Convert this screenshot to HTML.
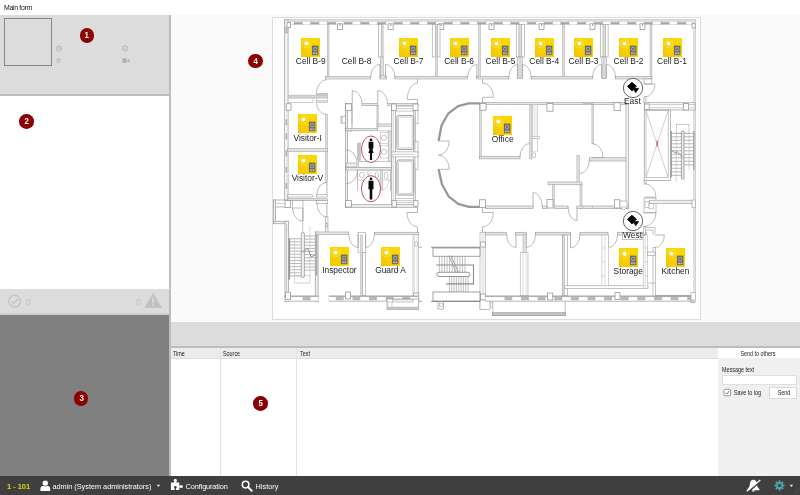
<!DOCTYPE html>
<html>
<head>
<meta charset="utf-8">
<title>Main form</title>
<style>
html,body{margin:0;padding:0;}
body{width:800px;height:495px;overflow:hidden;background:#fff;font-family:"Liberation Sans",sans-serif;position:relative;}
.abs{position:absolute;}
.t{position:absolute;white-space:nowrap;font-size:6.5px;line-height:8px;color:#222;transform-origin:0 0;}
.n{transform:scaleX(0.83);}
.nc{transform-origin:50% 0;transform:translateX(-50%) scaleX(0.83);}
.badge span{display:inline-block;transform:scaleX(0.84);}
.badge{position:absolute;width:14.6px;height:14.6px;border-radius:50%;background:#8b0000;color:#fff;font-weight:bold;font-size:9.4px;line-height:14.8px;text-align:center;}
.lbl{position:absolute;font-size:8.4px;line-height:9px;color:#1c1c1c;white-space:nowrap;transform:translateX(-50%);}
.dev{position:absolute;width:19px;height:19px;}
</style>
</head>
<body>
<div id="root" style="position:absolute;left:0;top:0;width:800px;height:495px;will-change:transform;overflow:hidden;">
<!-- title -->
<div class="t" style="left:4px;top:3.6px;font-size:6.9px;letter-spacing:-0.3px;color:#111;">Main form</div>

<!-- left column -->
<div class="abs" style="left:0;top:15px;width:169px;height:79px;background:#dcdcdc;"></div>
<div class="abs" style="left:0;top:94px;width:169px;height:1.5px;background:#bdbdbd;"></div>
<div class="abs" style="left:4px;top:18.3px;width:48px;height:48px;border:1px solid #868686;box-sizing:border-box;"></div>
<div class="abs" style="left:0;top:289.2px;width:169px;height:24px;background:#dcdcdc;"></div>
<div class="abs" style="left:0;top:313px;width:169px;height:1.8px;background:#cbcbcb;"></div>
<div class="abs" style="left:0;top:314.8px;width:169px;height:161px;background:#808080;"></div>
<div class="abs" style="left:169px;top:15px;width:1.6px;height:461px;background:#bdbdbd;"></div>

<!-- panel icons -->
<svg class="abs" style="left:55px;top:44px" width="80" height="22" viewBox="55 44 80 22">
<g fill="none" stroke="#a6a6a6" stroke-width="0.75">
<circle cx="59" cy="48.5" r="2.6"/><path d="M59 47 V48.6 H60.3"/>
<path d="M58.4 63 C57.6 61.6 56.9 60.8 56.9 59.8 A1.5 1.5 0 0 1 59.9 59.8 C59.9 60.8 59.2 61.6 58.4 63 Z"/>
<circle cx="125.1" cy="48.5" r="2.6"/>
</g>
<circle cx="125.1" cy="48.5" r="0.8" fill="#b2b2b2"/>
<circle cx="58.4" cy="59.8" r="0.5" fill="#b2b2b2"/>
<path d="M122.5 58.3 H126.6 V62.7 H122.5 Z M127 60.5 L129.3 58.6 V62.4 Z" fill="#adadad"/>
</svg>
<svg class="abs" style="left:6px;top:292px" width="20" height="18" viewBox="6 292 20 18"><circle cx="14.6" cy="301.1" r="5.9" fill="none" stroke="#c4c4c4" stroke-width="1.3"/><path d="M11.6 301.2 L13.8 303.4 L17.8 298.9" fill="none" stroke="#c4c4c4" stroke-width="1.5"/></svg>
<div class="t" style="left:26px;top:296.6px;font-size:8.8px;line-height:10px;color:#c2c2c2;">0</div>
<div class="t" style="left:136.3px;top:296.6px;font-size:8.8px;line-height:10px;color:#c2c2c2;">0</div>
<svg class="abs" style="left:144px;top:292px" width="19" height="17" viewBox="144 292 19 17"><path d="M153.1 293.4 L161.3 307.6 H144.9 Z" fill="#c0c0c0" stroke="#c0c0c0" stroke-width="0.6" stroke-linejoin="round"/><rect x="152.3" y="297.8" width="1.6" height="5.2" fill="#dcdcdc"/><rect x="152.3" y="304" width="1.6" height="1.7" fill="#dcdcdc"/></svg>
<!-- right main area -->
<div class="abs" style="left:170.6px;top:15px;width:630px;height:307px;background:#fafafa;"></div>
<div class="abs" style="left:272.2px;top:17.1px;width:428.4px;height:302.7px;background:#fff;border:0.9px solid #dddddd;box-sizing:border-box;"></div>
<div class="abs" style="left:170.6px;top:322px;width:630px;height:23.5px;background:#dcdcdc;"></div>
<div class="abs" style="left:170.6px;top:345.5px;width:630px;height:2px;background:#bdbdbd;"></div>
<!-- table -->
<div class="abs" style="left:170.6px;top:347.5px;width:547px;height:11px;background:#ececec;border-bottom:0.6px solid #dcdcdc;box-sizing:border-box;"></div>
<div class="abs" style="left:220px;top:347.5px;width:0.8px;height:128px;background:#e2e2e2;"></div>
<div class="abs" style="left:296.4px;top:347.5px;width:0.8px;height:128px;background:#e2e2e2;"></div>
<div class="t n" style="left:173px;top:349.6px;">Time</div>
<div class="t n" style="left:223px;top:349.6px;">Source</div>
<div class="t n" style="left:300px;top:349.6px;">Text</div>
<!-- right msg panel -->
<div class="abs" style="left:717.5px;top:347.5px;width:83px;height:128px;background:#f0f0f0;"></div>
<div class="abs" style="left:717.5px;top:347.5px;width:83px;height:10.7px;background:#fff;"></div>
<div class="t nc" style="left:758.2px;top:349.6px;">Send to others</div>
<div class="t n" style="left:722.3px;top:365.8px;">Message text</div>
<div class="abs" style="left:722px;top:375.4px;width:74.7px;height:9.5px;background:#fff;border:0.6px solid #e0e0e0;box-sizing:border-box;"></div>
<svg class="abs" style="left:722px;top:388px" width="10" height="10" viewBox="722 388 10 10"><rect x="724" y="389.4" width="6.6" height="6.4" rx="0.9" fill="#fff" stroke="#8e8e8e" stroke-width="0.85"/><path d="M725.4 392.6 L726.8 394.2 L729.5 390.6" fill="none" stroke="#777" stroke-width="0.95"/></svg>
<div class="t n" style="left:733.5px;top:389.3px;">Save to log</div>
<div class="abs" style="left:769.3px;top:387.2px;width:27.5px;height:11.5px;background:#fff;border:0.6px solid #dadada;box-sizing:border-box;"></div>
<div class="t nc" style="left:783.5px;top:389.3px;">Send</div>

<!-- status bar -->
<div class="abs" style="left:0;top:475.5px;width:800px;height:19.5px;background:#3f3f3f;"></div>
<div class="t" style="left:7px;top:481.5px;font-size:7.4px;line-height:9px;font-weight:bold;color:#e6d21e;">1 - 101</div>
<svg class="abs" style="left:40px;top:479.5px" width="11" height="12" viewBox="0 0 11 12"><circle cx="5.3" cy="3.1" r="2.7" fill="#fff"/><path d="M0.4 11 V8.6 C0.4 6.6 2.2 6 3.4 5.7 C4.6 6.5 6 6.5 7.2 5.7 C8.4 6 10.2 6.6 10.2 8.6 V11 Z" fill="#fff"/></svg>
<div class="t" id="adm" style="left:52.4px;top:481.5px;font-size:7.3px;line-height:9px;color:#fff;">admin (System administrators)</div>
<svg class="abs" style="left:156px;top:484px" width="5" height="4" viewBox="0 0 5 4"><path d="M0.6 0.8 H4.2 L2.4 3 Z" fill="#e8e8e8"/></svg>
<svg class="abs" style="left:170px;top:478px" width="14" height="13" viewBox="0 0 14 13"><g fill="#fff"><rect x="0.9" y="4.5" width="8.4" height="7.5"/><circle cx="5.3" cy="2.4" r="1.6"/><rect x="4.4" y="3" width="1.8" height="2"/><circle cx="11.3" cy="8.5" r="1.55"/><rect x="9" y="7.7" width="1.6" height="1.6"/></g><g fill="#3f3f3f"><circle cx="5.3" cy="9.3" r="1.25"/><rect x="4.7" y="10" width="1.2" height="2.1"/></g></svg>
<div class="t" id="cfg" style="letter-spacing:-0.1px;left:185.6px;top:481.5px;font-size:7.3px;line-height:9px;color:#fff;">Configuration</div>
<svg class="abs" style="left:241px;top:480px" width="12" height="12" viewBox="0 0 12 12"><circle cx="4.6" cy="4.6" r="3.3" fill="none" stroke="#fff" stroke-width="1.5"/><path d="M7 7 L10.8 10.8" stroke="#fff" stroke-width="1.9" stroke-linecap="round"/></svg>
<div class="t" id="hst" style="left:255.6px;top:481.5px;font-size:7.3px;line-height:9px;color:#fff;">History</div>
<svg class="abs" style="left:746px;top:478.5px" width="15" height="14" viewBox="0 0 15 14"><path d="M7.4 0.7 C9.8 0.7 10.7 2.8 10.9 5 C11.1 7.6 12.2 9 13.5 10.3 V11.2 H1.3 V10.3 C2.6 9 3.7 7.6 3.9 5 C4.1 2.8 5 0.7 7.4 0.7 Z M6 11.6 H8.8 C8.8 13.2 6 13.2 6 11.6 Z" fill="#fff"/><path d="M15 1.6 L2.2 13" stroke="#3f3f3f" stroke-width="1.7"/><path d="M14.3 1 L0.8 12.3" stroke="#fff" stroke-width="1.25"/></svg>
<svg class="abs" style="left:773.7px;top:480px" width="11" height="11" viewBox="-6 -6 12 12"><g fill="#4e9fa6"><circle r="3.9"/><g id="gt"><rect x="-1.1" y="-5.6" width="2.2" height="11.2"/></g><use href="#gt" transform="rotate(45)"/><use href="#gt" transform="rotate(90)"/><use href="#gt" transform="rotate(135)"/></g><circle r="1.7" fill="#3f3f3f"/></svg>
<svg class="abs" style="left:789px;top:484px" width="5" height="4" viewBox="0 0 5 4"><path d="M0.6 0.8 H4.2 L2.4 3 Z" fill="#e8e8e8"/></svg>
<svg class="abs" style="left:789px;top:484px" width="11" height="11" viewBox="0 0 11 11"><path d="M10 6 L6 10 M10 8 L8 10 M10 4 L4 10" stroke="#555" stroke-width="0.6"/></svg>

<svg width="0" height="0" style="position:absolute">
<defs>
<linearGradient id="yg" x1="0" y1="1" x2="1" y2="0"><stop offset="0" stop-color="#f5c500"/><stop offset="0.5" stop-color="#fad300"/><stop offset="1" stop-color="#fbd800"/></linearGradient>
<g id="dv">
<rect width="19" height="19" fill="url(#yg)"/>
<circle cx="5.5" cy="5.6" r="4.1" fill="none" stroke="#fff" stroke-opacity="0.75" stroke-width="0.5" stroke-dasharray="2.2 0.9"/>
<circle cx="5.5" cy="5.6" r="2.1" fill="#fff"/>
<rect x="10.9" y="7.6" width="6.5" height="9.6" fill="#6a6a6a"/>
<circle cx="14.15" cy="11.1" r="2.3" fill="#a4a4a4"/>
<circle cx="14.15" cy="11.1" r="1.3" fill="#747474"/>
<rect x="12" y="14.5" width="1.8" height="1.7" fill="#c2c2c2"/><rect x="14.5" y="14.5" width="1.8" height="1.7" fill="#c2c2c2"/>
</g>
<g id="cam"><circle r="9.65" fill="#fff" stroke="#484848" stroke-width="0.85"/><path d="M-5.6 -1.6 L-1.2 -5.8 L3.4 -2 L1.4 0.5 L5.6 0.4 L2.8 4.6 L0.6 1.6 L-1 2.9 Z" fill="#000" stroke="#000" stroke-width="0.8" stroke-linejoin="round"/></g>
</defs>
</svg>
<!-- FLOORPLAN -->
<svg id="fp" class="abs" style="left:0;top:0;" width="800" height="495" viewBox="0 0 800 495">
<rect x="284.40" y="19.70" width="411.20" height="5.00" fill="#dedede" stroke="#b2b2b2" stroke-width="0.5"/>
<line x1="294.00" y1="23.10" x2="302.35" y2="23.10" stroke="#8e8e8e" stroke-width="1.2"/>
<line x1="294.00" y1="21.00" x2="294.00" y2="24.70" stroke="#aaa" stroke-width="0.5"/>
<line x1="302.35" y1="21.00" x2="302.35" y2="24.70" stroke="#aaa" stroke-width="0.5"/>
<rect x="302.65" y="21.9" width="7.70" height="2.5" fill="#fff"/>
<line x1="310.68" y1="23.10" x2="319.03" y2="23.10" stroke="#8e8e8e" stroke-width="1.2"/>
<line x1="310.68" y1="21.00" x2="310.68" y2="24.70" stroke="#aaa" stroke-width="0.5"/>
<line x1="319.03" y1="21.00" x2="319.03" y2="24.70" stroke="#aaa" stroke-width="0.5"/>
<rect x="319.33" y="21.9" width="7.70" height="2.5" fill="#fff"/>
<line x1="327.36" y1="23.10" x2="335.71" y2="23.10" stroke="#8e8e8e" stroke-width="1.2"/>
<line x1="327.36" y1="21.00" x2="327.36" y2="24.70" stroke="#aaa" stroke-width="0.5"/>
<line x1="335.71" y1="21.00" x2="335.71" y2="24.70" stroke="#aaa" stroke-width="0.5"/>
<rect x="336.01" y="21.9" width="7.70" height="2.5" fill="#fff"/>
<line x1="344.04" y1="23.10" x2="352.39" y2="23.10" stroke="#8e8e8e" stroke-width="1.2"/>
<line x1="344.04" y1="21.00" x2="344.04" y2="24.70" stroke="#aaa" stroke-width="0.5"/>
<line x1="352.39" y1="21.00" x2="352.39" y2="24.70" stroke="#aaa" stroke-width="0.5"/>
<rect x="352.69" y="21.9" width="7.70" height="2.5" fill="#fff"/>
<line x1="360.72" y1="23.10" x2="369.07" y2="23.10" stroke="#8e8e8e" stroke-width="1.2"/>
<line x1="360.72" y1="21.00" x2="360.72" y2="24.70" stroke="#aaa" stroke-width="0.5"/>
<line x1="369.07" y1="21.00" x2="369.07" y2="24.70" stroke="#aaa" stroke-width="0.5"/>
<rect x="369.37" y="21.9" width="7.70" height="2.5" fill="#fff"/>
<line x1="377.40" y1="23.10" x2="385.75" y2="23.10" stroke="#8e8e8e" stroke-width="1.2"/>
<line x1="377.40" y1="21.00" x2="377.40" y2="24.70" stroke="#aaa" stroke-width="0.5"/>
<line x1="385.75" y1="21.00" x2="385.75" y2="24.70" stroke="#aaa" stroke-width="0.5"/>
<rect x="386.05" y="21.9" width="7.70" height="2.5" fill="#fff"/>
<line x1="394.08" y1="23.10" x2="402.43" y2="23.10" stroke="#8e8e8e" stroke-width="1.2"/>
<line x1="394.08" y1="21.00" x2="394.08" y2="24.70" stroke="#aaa" stroke-width="0.5"/>
<line x1="402.43" y1="21.00" x2="402.43" y2="24.70" stroke="#aaa" stroke-width="0.5"/>
<rect x="402.73" y="21.9" width="7.70" height="2.5" fill="#fff"/>
<line x1="410.76" y1="23.10" x2="419.11" y2="23.10" stroke="#8e8e8e" stroke-width="1.2"/>
<line x1="410.76" y1="21.00" x2="410.76" y2="24.70" stroke="#aaa" stroke-width="0.5"/>
<line x1="419.11" y1="21.00" x2="419.11" y2="24.70" stroke="#aaa" stroke-width="0.5"/>
<rect x="419.41" y="21.9" width="7.70" height="2.5" fill="#fff"/>
<line x1="427.44" y1="23.10" x2="435.79" y2="23.10" stroke="#8e8e8e" stroke-width="1.2"/>
<line x1="427.44" y1="21.00" x2="427.44" y2="24.70" stroke="#aaa" stroke-width="0.5"/>
<line x1="435.79" y1="21.00" x2="435.79" y2="24.70" stroke="#aaa" stroke-width="0.5"/>
<rect x="436.09" y="21.9" width="7.70" height="2.5" fill="#fff"/>
<line x1="444.12" y1="23.10" x2="452.47" y2="23.10" stroke="#8e8e8e" stroke-width="1.2"/>
<line x1="444.12" y1="21.00" x2="444.12" y2="24.70" stroke="#aaa" stroke-width="0.5"/>
<line x1="452.47" y1="21.00" x2="452.47" y2="24.70" stroke="#aaa" stroke-width="0.5"/>
<rect x="452.77" y="21.9" width="7.70" height="2.5" fill="#fff"/>
<line x1="460.80" y1="23.10" x2="469.15" y2="23.10" stroke="#8e8e8e" stroke-width="1.2"/>
<line x1="460.80" y1="21.00" x2="460.80" y2="24.70" stroke="#aaa" stroke-width="0.5"/>
<line x1="469.15" y1="21.00" x2="469.15" y2="24.70" stroke="#aaa" stroke-width="0.5"/>
<rect x="469.45" y="21.9" width="7.70" height="2.5" fill="#fff"/>
<line x1="477.48" y1="23.10" x2="485.83" y2="23.10" stroke="#8e8e8e" stroke-width="1.2"/>
<line x1="477.48" y1="21.00" x2="477.48" y2="24.70" stroke="#aaa" stroke-width="0.5"/>
<line x1="485.83" y1="21.00" x2="485.83" y2="24.70" stroke="#aaa" stroke-width="0.5"/>
<rect x="486.13" y="21.9" width="7.70" height="2.5" fill="#fff"/>
<line x1="494.16" y1="23.10" x2="502.51" y2="23.10" stroke="#8e8e8e" stroke-width="1.2"/>
<line x1="494.16" y1="21.00" x2="494.16" y2="24.70" stroke="#aaa" stroke-width="0.5"/>
<line x1="502.51" y1="21.00" x2="502.51" y2="24.70" stroke="#aaa" stroke-width="0.5"/>
<rect x="502.81" y="21.9" width="7.70" height="2.5" fill="#fff"/>
<line x1="510.84" y1="23.10" x2="519.19" y2="23.10" stroke="#8e8e8e" stroke-width="1.2"/>
<line x1="510.84" y1="21.00" x2="510.84" y2="24.70" stroke="#aaa" stroke-width="0.5"/>
<line x1="519.19" y1="21.00" x2="519.19" y2="24.70" stroke="#aaa" stroke-width="0.5"/>
<rect x="519.49" y="21.9" width="7.70" height="2.5" fill="#fff"/>
<line x1="527.52" y1="23.10" x2="535.87" y2="23.10" stroke="#8e8e8e" stroke-width="1.2"/>
<line x1="527.52" y1="21.00" x2="527.52" y2="24.70" stroke="#aaa" stroke-width="0.5"/>
<line x1="535.87" y1="21.00" x2="535.87" y2="24.70" stroke="#aaa" stroke-width="0.5"/>
<rect x="536.17" y="21.9" width="7.70" height="2.5" fill="#fff"/>
<line x1="544.20" y1="23.10" x2="552.55" y2="23.10" stroke="#8e8e8e" stroke-width="1.2"/>
<line x1="544.20" y1="21.00" x2="544.20" y2="24.70" stroke="#aaa" stroke-width="0.5"/>
<line x1="552.55" y1="21.00" x2="552.55" y2="24.70" stroke="#aaa" stroke-width="0.5"/>
<rect x="552.85" y="21.9" width="7.70" height="2.5" fill="#fff"/>
<line x1="560.88" y1="23.10" x2="569.23" y2="23.10" stroke="#8e8e8e" stroke-width="1.2"/>
<line x1="560.88" y1="21.00" x2="560.88" y2="24.70" stroke="#aaa" stroke-width="0.5"/>
<line x1="569.23" y1="21.00" x2="569.23" y2="24.70" stroke="#aaa" stroke-width="0.5"/>
<rect x="569.53" y="21.9" width="7.70" height="2.5" fill="#fff"/>
<line x1="577.56" y1="23.10" x2="585.91" y2="23.10" stroke="#8e8e8e" stroke-width="1.2"/>
<line x1="577.56" y1="21.00" x2="577.56" y2="24.70" stroke="#aaa" stroke-width="0.5"/>
<line x1="585.91" y1="21.00" x2="585.91" y2="24.70" stroke="#aaa" stroke-width="0.5"/>
<rect x="586.21" y="21.9" width="7.70" height="2.5" fill="#fff"/>
<line x1="594.24" y1="23.10" x2="602.59" y2="23.10" stroke="#8e8e8e" stroke-width="1.2"/>
<line x1="594.24" y1="21.00" x2="594.24" y2="24.70" stroke="#aaa" stroke-width="0.5"/>
<line x1="602.59" y1="21.00" x2="602.59" y2="24.70" stroke="#aaa" stroke-width="0.5"/>
<rect x="602.89" y="21.9" width="7.70" height="2.5" fill="#fff"/>
<line x1="610.92" y1="23.10" x2="619.27" y2="23.10" stroke="#8e8e8e" stroke-width="1.2"/>
<line x1="610.92" y1="21.00" x2="610.92" y2="24.70" stroke="#aaa" stroke-width="0.5"/>
<line x1="619.27" y1="21.00" x2="619.27" y2="24.70" stroke="#aaa" stroke-width="0.5"/>
<rect x="619.57" y="21.9" width="7.70" height="2.5" fill="#fff"/>
<line x1="627.60" y1="23.10" x2="635.95" y2="23.10" stroke="#8e8e8e" stroke-width="1.2"/>
<line x1="627.60" y1="21.00" x2="627.60" y2="24.70" stroke="#aaa" stroke-width="0.5"/>
<line x1="635.95" y1="21.00" x2="635.95" y2="24.70" stroke="#aaa" stroke-width="0.5"/>
<rect x="636.25" y="21.9" width="7.70" height="2.5" fill="#fff"/>
<line x1="644.28" y1="23.10" x2="652.63" y2="23.10" stroke="#8e8e8e" stroke-width="1.2"/>
<line x1="644.28" y1="21.00" x2="644.28" y2="24.70" stroke="#aaa" stroke-width="0.5"/>
<line x1="652.63" y1="21.00" x2="652.63" y2="24.70" stroke="#aaa" stroke-width="0.5"/>
<rect x="652.93" y="21.9" width="7.70" height="2.5" fill="#fff"/>
<line x1="660.96" y1="23.10" x2="669.31" y2="23.10" stroke="#8e8e8e" stroke-width="1.2"/>
<line x1="660.96" y1="21.00" x2="660.96" y2="24.70" stroke="#aaa" stroke-width="0.5"/>
<line x1="669.31" y1="21.00" x2="669.31" y2="24.70" stroke="#aaa" stroke-width="0.5"/>
<rect x="669.61" y="21.9" width="7.70" height="2.5" fill="#fff"/>
<line x1="677.64" y1="23.10" x2="685.99" y2="23.10" stroke="#8e8e8e" stroke-width="1.2"/>
<line x1="677.64" y1="21.00" x2="677.64" y2="24.70" stroke="#aaa" stroke-width="0.5"/>
<line x1="685.99" y1="21.00" x2="685.99" y2="24.70" stroke="#aaa" stroke-width="0.5"/>
<rect x="686.29" y="21.9" width="5.41" height="2.5" fill="#fff"/>
<rect x="288" y="21.9" width="5.7" height="2.5" fill="#fff"/>
<rect x="284.50" y="20.00" width="3.60" height="180.30" fill="#f1f1f1" stroke="#a4a4a4" stroke-width="0.7"/>
<rect x="285.5" y="119.2" width="1.7" height="6.0" fill="#b2b2b2"/>
<rect x="285.5" y="133.3" width="1.7" height="6.099999999999994" fill="#b2b2b2"/>
<rect x="285.5" y="150.5" width="1.7" height="6.099999999999994" fill="#b2b2b2"/>
<rect x="285.5" y="166.7" width="1.7" height="6.0" fill="#b2b2b2"/>
<rect x="285.5" y="182.8" width="1.7" height="6.099999999999994" fill="#b2b2b2"/>
<rect x="287.00" y="22.50" width="3.60" height="5.00" fill="#fff" stroke="#9a9a9a" stroke-width="0.8"/>
<rect x="284.40" y="27.00" width="3.60" height="6.00" fill="#c4c4c4" stroke="#aaa" stroke-width="0.5"/>
<rect x="693.90" y="24.40" width="1.70" height="268.60" fill="#ededed" stroke="#ababab" stroke-width="0.5"/>
<rect x="692.00" y="23.70" width="3.20" height="4.30" fill="#fff" stroke="#9a9a9a" stroke-width="0.8"/>
<rect x="337.50" y="23.75" width="5.00" height="5.65" fill="#fff" stroke="#9a9a9a" stroke-width="0.8"/>
<rect x="339.50" y="24.3" width="1.2" height="1.2" fill="#777"/>
<rect x="388.10" y="23.75" width="5.00" height="5.65" fill="#fff" stroke="#9a9a9a" stroke-width="0.8"/>
<rect x="390.10" y="24.3" width="1.2" height="1.2" fill="#777"/>
<rect x="438.75" y="23.75" width="5.00" height="5.65" fill="#fff" stroke="#9a9a9a" stroke-width="0.8"/>
<rect x="440.75" y="24.3" width="1.2" height="1.2" fill="#777"/>
<rect x="489.00" y="23.75" width="5.00" height="5.65" fill="#fff" stroke="#9a9a9a" stroke-width="0.8"/>
<rect x="491.00" y="24.3" width="1.2" height="1.2" fill="#777"/>
<rect x="539.00" y="23.75" width="5.00" height="5.65" fill="#fff" stroke="#9a9a9a" stroke-width="0.8"/>
<rect x="541.00" y="24.3" width="1.2" height="1.2" fill="#777"/>
<rect x="590.00" y="23.75" width="5.00" height="5.65" fill="#fff" stroke="#9a9a9a" stroke-width="0.8"/>
<rect x="592.00" y="24.3" width="1.2" height="1.2" fill="#777"/>
<rect x="640.00" y="23.75" width="5.00" height="5.65" fill="#fff" stroke="#9a9a9a" stroke-width="0.8"/>
<rect x="642.00" y="24.3" width="1.2" height="1.2" fill="#777"/>
<rect x="327.25" y="24.40" width="1.75" height="52.60" fill="#dedede" stroke="#a6a6a6" stroke-width="0.5"/>
<rect x="378.50" y="24.40" width="2.75" height="32.60" fill="#fff" stroke="#9a9a9a" stroke-width="0.6"/>
<rect x="381.25" y="24.40" width="1.85" height="32.60" fill="#dedede" stroke="#a6a6a6" stroke-width="0.5"/>
<rect x="380.30" y="57.00" width="3.10" height="19.50" fill="#dedede" stroke="#a6a6a6" stroke-width="0.5"/>
<rect x="379.85" y="75.80" width="6.35" height="3.20" fill="#e4e4e4" stroke="#a0a0a0" stroke-width="0.6"/>
<rect x="432.25" y="24.40" width="3.35" height="32.60" fill="#fff" stroke="#9a9a9a" stroke-width="0.6"/>
<rect x="437.50" y="24.40" width="2.50" height="32.60" fill="#fff" stroke="#9a9a9a" stroke-width="0.6"/>
<rect x="435.60" y="24.40" width="1.90" height="54.10" fill="#dedede" stroke="#a6a6a6" stroke-width="0.5"/>
<rect x="478.50" y="24.40" width="1.75" height="54.10" fill="#dedede" stroke="#a6a6a6" stroke-width="0.5"/>
<rect x="516.50" y="24.40" width="2.50" height="32.60" fill="#fff" stroke="#9a9a9a" stroke-width="0.6"/>
<rect x="521.50" y="24.40" width="2.90" height="32.60" fill="#fff" stroke="#9a9a9a" stroke-width="0.6"/>
<rect x="519.00" y="24.40" width="2.50" height="32.60" fill="#dedede" stroke="#a6a6a6" stroke-width="0.5"/>
<rect x="517.75" y="57.00" width="4.45" height="21.75" fill="#ececec" stroke="#9a9a9a" stroke-width="0.6"/>
<line x1="520.00" y1="57.00" x2="520.00" y2="78.75" stroke="#9a9a9a" stroke-width="0.5"/>
<rect x="562.50" y="24.40" width="1.90" height="54.10" fill="#dedede" stroke="#a6a6a6" stroke-width="0.5"/>
<rect x="600.60" y="24.40" width="2.50" height="32.60" fill="#fff" stroke="#9a9a9a" stroke-width="0.6"/>
<rect x="605.60" y="24.40" width="2.50" height="32.60" fill="#fff" stroke="#9a9a9a" stroke-width="0.6"/>
<rect x="603.10" y="24.40" width="2.50" height="32.60" fill="#dedede" stroke="#a6a6a6" stroke-width="0.5"/>
<rect x="601.90" y="57.00" width="4.35" height="21.75" fill="#ececec" stroke="#9a9a9a" stroke-width="0.6"/>
<line x1="604.00" y1="57.00" x2="604.00" y2="78.75" stroke="#9a9a9a" stroke-width="0.5"/>
<rect x="650.00" y="24.40" width="1.90" height="54.60" fill="#dedede" stroke="#a6a6a6" stroke-width="0.5"/>
<rect x="325.60" y="76.40" width="45.00" height="2.60" fill="#e4e4e4" stroke="#a0a0a0" stroke-width="0.6"/>
<rect x="395.00" y="76.40" width="72.50" height="2.60" fill="#e4e4e4" stroke="#a0a0a0" stroke-width="0.6"/>
<rect x="476.25" y="76.40" width="32.50" height="2.60" fill="#e4e4e4" stroke="#a0a0a0" stroke-width="0.6"/>
<rect x="531.25" y="76.40" width="61.25" height="2.60" fill="#e4e4e4" stroke="#a0a0a0" stroke-width="0.6"/>
<rect x="615.60" y="76.40" width="36.30" height="2.60" fill="#e4e4e4" stroke="#a0a0a0" stroke-width="0.6"/>
<line x1="380.00" y1="78.00" x2="380.00" y2="64.40" stroke="#9c9c9c" stroke-width="0.75"/>
<path d="M380.00 64.40 A9.40 13.60 0 0 0 370.60 78.00" fill="none" stroke="#a0a0a0" stroke-width="0.7" />
<line x1="385.60" y1="78.00" x2="385.60" y2="64.40" stroke="#9c9c9c" stroke-width="0.75"/>
<path d="M385.60 64.40 A9.40 13.60 0 0 1 395.00 78.00" fill="none" stroke="#a0a0a0" stroke-width="0.7" />
<line x1="476.90" y1="78.00" x2="476.90" y2="64.50" stroke="#9c9c9c" stroke-width="0.75"/>
<path d="M476.90 64.50 A9.40 13.50 0 0 0 467.50 78.00" fill="none" stroke="#a0a0a0" stroke-width="0.7" />
<line x1="517.75" y1="78.00" x2="517.75" y2="64.50" stroke="#9c9c9c" stroke-width="0.75"/>
<path d="M517.75 64.50 A9.00 13.50 0 0 0 508.75 78.00" fill="none" stroke="#a0a0a0" stroke-width="0.7" />
<line x1="522.30" y1="78.00" x2="522.30" y2="64.50" stroke="#9c9c9c" stroke-width="0.75"/>
<path d="M522.30 64.50 A8.95 13.50 0 0 1 531.25 78.00" fill="none" stroke="#a0a0a0" stroke-width="0.7" />
<line x1="601.90" y1="78.00" x2="601.90" y2="64.30" stroke="#9c9c9c" stroke-width="0.75"/>
<path d="M601.90 64.30 A9.40 13.70 0 0 0 592.50 78.00" fill="none" stroke="#a0a0a0" stroke-width="0.7" />
<line x1="606.10" y1="78.00" x2="606.10" y2="64.30" stroke="#9c9c9c" stroke-width="0.75"/>
<path d="M606.10 64.30 A9.50 13.70 0 0 1 615.60 78.00" fill="none" stroke="#a0a0a0" stroke-width="0.7" />
<path d="M326.80 79.60 A10.40 14.40 0 0 0 316.40 94.00" fill="none" stroke="#a0a0a0" stroke-width="0.7" />
<path d="M326.80 114.60 A10.40 12.20 0 0 1 316.40 102.40" fill="none" stroke="#a0a0a0" stroke-width="0.7" />
<rect x="316.75" y="93.25" width="10.65" height="9.35" fill="#fff" stroke="#b0b0b0" stroke-width="0.5"/>
<rect x="316.75" y="93.25" width="10.65" height="1.85" fill="#d4d4d4" stroke="#b0b0b0" stroke-width="0.4"/>
<rect x="288.10" y="95.10" width="39.30" height="3.00" fill="#d4d4d4" stroke="#b0b0b0" stroke-width="0.5"/>
<rect x="288.10" y="98.10" width="24.90" height="4.40" fill="#fff" stroke="#b0b0b0" stroke-width="0.6"/>
<rect x="316.75" y="100.40" width="10.65" height="2.20" fill="#e2e2e2" stroke="#b0b0b0" stroke-width="0.4"/>
<rect x="286.25" y="103.75" width="4.75" height="6.50" fill="#fff" stroke="#9a9a9a" stroke-width="0.8"/>
<rect x="325.60" y="114.40" width="1.90" height="68.10" fill="#dedede" stroke="#a6a6a6" stroke-width="0.5"/>
<rect x="287.50" y="148.75" width="39.80" height="2.50" fill="#e6e6e6" stroke="#9a9a9a" stroke-width="0.6"/>
<line x1="326.90" y1="195.00" x2="326.90" y2="182.50" stroke="#9c9c9c" stroke-width="0.75"/>
<path d="M326.90 182.50 A10.00 12.50 0 0 0 316.90 195.00" fill="none" stroke="#a0a0a0" stroke-width="0.7" />
<rect x="287.50" y="194.75" width="25.00" height="2.25" fill="#fff" stroke="#9a9a9a" stroke-width="0.6"/>
<rect x="316.25" y="194.75" width="11.25" height="2.25" fill="#fff" stroke="#9a9a9a" stroke-width="0.6"/>
<rect x="287.50" y="198.75" width="40.00" height="1.85" fill="#e4e4e4" stroke="#9a9a9a" stroke-width="0.6"/>
<rect x="316.25" y="200.60" width="11.25" height="3.15" fill="#fff" stroke="#9a9a9a" stroke-width="0.6"/>
<rect x="273.50" y="200.00" width="13.50" height="7.00" fill="#fff" stroke="#9a9a9a" stroke-width="0.7"/>
<line x1="273.50" y1="203.50" x2="287.00" y2="203.50" stroke="#9a9a9a" stroke-width="0.5"/>
<rect x="273.50" y="200.00" width="2.10" height="23.75" fill="#f0f0f0" stroke="#9a9a9a" stroke-width="0.7"/>
<rect x="273.50" y="221.25" width="14.50" height="2.50" fill="#f0f0f0" stroke="#9a9a9a" stroke-width="0.7"/>
<rect x="285.00" y="200.60" width="5.60" height="6.90" fill="#fff" stroke="#9a9a9a" stroke-width="0.8"/>
<rect x="292.50" y="200.60" width="10.50" height="7.40" fill="#fff" stroke="#9a9a9a" stroke-width="0.6"/>
<line x1="303.00" y1="208.00" x2="303.00" y2="221.25" stroke="#9c9c9c" stroke-width="0.75"/>
<path d="M303.00 221.25 A10.50 13.25 0 0 1 292.50 208.00" fill="none" stroke="#a0a0a0" stroke-width="0.7" />
<line x1="326.90" y1="203.00" x2="326.90" y2="217.00" stroke="#9c9c9c" stroke-width="0.75"/>
<path d="M326.90 217.00 A10.00 14.00 0 0 1 316.90 203.00" fill="none" stroke="#a0a0a0" stroke-width="0.7" />
<rect x="325.60" y="217.00" width="2.40" height="15.50" fill="#f4f4f4" stroke="#9a9a9a" stroke-width="0.6"/>
<rect x="326.00" y="223.00" width="1.60" height="4.00" fill="#fff" stroke="#9a9a9a" stroke-width="0.5"/>
<rect x="285.00" y="221.25" width="3.50" height="80.50" fill="#f4f4f4" stroke="#9a9a9a" stroke-width="0.7"/>
<line x1="286.60" y1="224.00" x2="286.60" y2="296.00" stroke="#9a9a9a" stroke-width="0.5"/>
<line x1="302.75" y1="208.00" x2="302.75" y2="232.00" stroke="#9a9a9a" stroke-width="0.6"/>
<line x1="290.00" y1="238.75" x2="301.25" y2="238.75" stroke="#a2a2a2" stroke-width="0.75"/>
<line x1="290.00" y1="241.85" x2="301.25" y2="241.85" stroke="#a2a2a2" stroke-width="0.75"/>
<line x1="290.00" y1="244.95" x2="301.25" y2="244.95" stroke="#a2a2a2" stroke-width="0.75"/>
<line x1="290.00" y1="248.05" x2="301.25" y2="248.05" stroke="#a2a2a2" stroke-width="0.75"/>
<line x1="290.00" y1="251.15" x2="301.25" y2="251.15" stroke="#a2a2a2" stroke-width="0.75"/>
<line x1="290.00" y1="254.25" x2="301.25" y2="254.25" stroke="#a2a2a2" stroke-width="0.75"/>
<line x1="290.00" y1="257.35" x2="301.25" y2="257.35" stroke="#a2a2a2" stroke-width="0.75"/>
<line x1="290.00" y1="260.45" x2="301.25" y2="260.45" stroke="#a2a2a2" stroke-width="0.75"/>
<line x1="290.00" y1="263.55" x2="301.25" y2="263.55" stroke="#a2a2a2" stroke-width="0.75"/>
<line x1="290.00" y1="266.65" x2="301.25" y2="266.65" stroke="#a2a2a2" stroke-width="0.75"/>
<line x1="290.00" y1="269.75" x2="301.25" y2="269.75" stroke="#a2a2a2" stroke-width="0.75"/>
<line x1="290.00" y1="272.85" x2="301.25" y2="272.85" stroke="#a2a2a2" stroke-width="0.75"/>
<line x1="290.00" y1="275.95" x2="301.25" y2="275.95" stroke="#a2a2a2" stroke-width="0.75"/>
<line x1="304.40" y1="236.00" x2="315.25" y2="236.00" stroke="#a2a2a2" stroke-width="0.75"/>
<line x1="304.40" y1="239.10" x2="315.25" y2="239.10" stroke="#a2a2a2" stroke-width="0.75"/>
<line x1="304.40" y1="242.20" x2="315.25" y2="242.20" stroke="#a2a2a2" stroke-width="0.75"/>
<line x1="304.40" y1="245.30" x2="315.25" y2="245.30" stroke="#a2a2a2" stroke-width="0.75"/>
<line x1="304.40" y1="248.40" x2="315.25" y2="248.40" stroke="#a2a2a2" stroke-width="0.75"/>
<line x1="304.40" y1="251.50" x2="315.25" y2="251.50" stroke="#a2a2a2" stroke-width="0.75"/>
<line x1="304.40" y1="254.60" x2="315.25" y2="254.60" stroke="#a2a2a2" stroke-width="0.75"/>
<line x1="304.40" y1="257.70" x2="315.25" y2="257.70" stroke="#a2a2a2" stroke-width="0.75"/>
<line x1="304.40" y1="260.80" x2="315.25" y2="260.80" stroke="#a2a2a2" stroke-width="0.75"/>
<line x1="304.40" y1="263.90" x2="315.25" y2="263.90" stroke="#a2a2a2" stroke-width="0.75"/>
<line x1="304.40" y1="267.00" x2="315.25" y2="267.00" stroke="#a2a2a2" stroke-width="0.75"/>
<line x1="304.40" y1="270.10" x2="315.25" y2="270.10" stroke="#a2a2a2" stroke-width="0.75"/>
<rect x="288.50" y="238.75" width="1.50" height="40.65" fill="#999" stroke="#999" stroke-width="0.3"/>
<line x1="294.40" y1="238.00" x2="294.40" y2="283.00" stroke="#b0b0b0" stroke-width="0.5"/>
<line x1="310.00" y1="226.00" x2="310.00" y2="283.00" stroke="#b0b0b0" stroke-width="0.5"/>
<line x1="294.40" y1="275.60" x2="310.00" y2="275.60" stroke="#b0b0b0" stroke-width="0.5"/>
<line x1="294.40" y1="283.00" x2="310.00" y2="283.00" stroke="#b0b0b0" stroke-width="0.6"/>
<rect x="301.25" y="232.50" width="3.15" height="45.00" fill="#f0f0f0" stroke="#8c8c8c" stroke-width="0.7" rx="1.5"/>
<path d="M301.7 252.2 L307.9 248.4 L311.1 256.8 L316.8 254.5" fill="none" stroke="#8e8e8e" stroke-width="0.95" />
<rect x="315.25" y="232.00" width="2.85" height="69.75" fill="#f0f0f0" stroke="#9a9a9a" stroke-width="0.7"/>
<rect x="315.40" y="235.00" width="1.90" height="40.60" fill="#aaa" stroke="none" stroke-width="0"/>
<rect x="284.40" y="296.00" width="34.10" height="5.60" fill="#e4e4e4" stroke="#ababab" stroke-width="0.5"/>
<rect x="284.40" y="297.00" width="34.10" height="3.20" fill="#fff"/>
<rect x="302.60" y="296.90" width="7.90" height="3.40" fill="#b9b9b9"/>
<line x1="284.40" y1="296.20" x2="318.50" y2="296.20" stroke="#999" stroke-width="0.9"/>
<rect x="285.60" y="292.25" width="5.00" height="7.00" fill="#fff" stroke="#9a9a9a" stroke-width="0.8"/>
<rect x="315.60" y="232.00" width="33.15" height="2.40" fill="#e8e8e8" stroke="#9a9a9a" stroke-width="0.6"/>
<rect x="358.10" y="232.25" width="7.50" height="20.25" fill="#fff" stroke="#9a9a9a" stroke-width="0.6"/>
<line x1="360.60" y1="234.40" x2="360.60" y2="295.75" stroke="#9a9a9a" stroke-width="0.6"/>
<line x1="362.50" y1="234.40" x2="362.50" y2="295.75" stroke="#9a9a9a" stroke-width="0.6"/>
<rect x="360.60" y="234.40" width="1.90" height="61.35" fill="#dcdcdc" stroke="none" stroke-width="0"/>
<rect x="362.50" y="252.50" width="3.10" height="43.25" fill="#fff" stroke="#9a9a9a" stroke-width="0.6"/>
<line x1="358.10" y1="234.00" x2="358.10" y2="247.50" stroke="#9c9c9c" stroke-width="0.75"/>
<path d="M358.10 247.50 A9.35 13.50 0 0 1 348.75 234.00" fill="none" stroke="#a0a0a0" stroke-width="0.7" />
<line x1="365.60" y1="234.00" x2="365.60" y2="247.50" stroke="#9c9c9c" stroke-width="0.75"/>
<path d="M365.60 247.50 A8.80 13.50 0 0 0 374.40 234.00" fill="none" stroke="#a0a0a0" stroke-width="0.7" />
<rect x="374.40" y="232.25" width="44.10" height="2.50" fill="#e8e8e8" stroke="#9a9a9a" stroke-width="0.6"/>
<rect x="413.00" y="234.75" width="5.50" height="74.25" fill="#fff" stroke="#a8a8a8" stroke-width="0.6"/>
<line x1="414.60" y1="234.75" x2="414.60" y2="295.00" stroke="#bcbcbc" stroke-width="0.5"/>
<line x1="417.00" y1="234.75" x2="417.00" y2="295.00" stroke="#bcbcbc" stroke-width="0.5"/>
<rect x="414.90" y="242.00" width="2.40" height="4.00" fill="#fff" stroke="#9a9a9a" stroke-width="0.5"/>
<line x1="418.50" y1="247.25" x2="422.00" y2="247.25" stroke="#9a9a9a" stroke-width="0.8"/>
<line x1="418.50" y1="301.40" x2="422.00" y2="301.40" stroke="#9a9a9a" stroke-width="0.8"/>
<rect x="413.75" y="293.00" width="5.00" height="7.75" fill="#fff" stroke="#9a9a9a" stroke-width="0.8"/>
<rect x="329.00" y="296.00" width="89.00" height="5.60" fill="#e4e4e4" stroke="#ababab" stroke-width="0.5"/>
<rect x="329.00" y="297.00" width="89.00" height="3.20" fill="#fff"/>
<rect x="335.80" y="296.90" width="7.90" height="3.40" fill="#b9b9b9"/>
<rect x="352.42" y="296.90" width="7.90" height="3.40" fill="#b9b9b9"/>
<rect x="369.04" y="296.90" width="7.90" height="3.40" fill="#b9b9b9"/>
<rect x="385.66" y="296.90" width="7.90" height="3.40" fill="#b9b9b9"/>
<rect x="402.28" y="296.90" width="7.90" height="3.40" fill="#b9b9b9"/>
<line x1="329.00" y1="296.20" x2="418.00" y2="296.20" stroke="#999" stroke-width="0.9"/>
<rect x="345.60" y="292.00" width="5.00" height="6.90" fill="#fff" stroke="#9a9a9a" stroke-width="0.8"/>
<rect x="387.00" y="299.00" width="31.75" height="10.50" fill="#fff" stroke="#9a9a9a" stroke-width="0.7"/>
<rect x="392.50" y="299.60" width="20.50" height="2.40" fill="#f0f0f0" stroke="#9a9a9a" stroke-width="0.5"/>
<rect x="387.50" y="302.00" width="4.50" height="6.00" fill="#fff" stroke="#9a9a9a" stroke-width="0.5"/>
<rect x="387.50" y="307.00" width="31.25" height="2.50" fill="#c8c8c8" stroke="#aaa" stroke-width="0.4"/>
<rect x="345.60" y="103.50" width="6.40" height="27.50" fill="#fff" stroke="#9a9a9a" stroke-width="0.7"/>
<rect x="345.60" y="103.50" width="1.90" height="104.00" fill="#f2f2f2" stroke="#9a9a9a" stroke-width="0.7"/>
<rect x="341.00" y="116.25" width="4.60" height="6.85" fill="#fff" stroke="#9a9a9a" stroke-width="0.7"/>
<line x1="342.30" y1="117.00" x2="342.30" y2="122.40" stroke="#9a9a9a" stroke-width="0.5"/>
<rect x="361.90" y="103.50" width="15.35" height="2.10" fill="#e8e8e8" stroke="#9a9a9a" stroke-width="0.6"/>
<rect x="387.50" y="103.50" width="30.50" height="2.10" fill="#e8e8e8" stroke="#9a9a9a" stroke-width="0.6"/>
<line x1="352.25" y1="103.50" x2="352.25" y2="90.60" stroke="#9c9c9c" stroke-width="0.75"/>
<path d="M352.25 90.60 A9.65 12.90 0 0 1 361.90 103.50" fill="none" stroke="#a0a0a0" stroke-width="0.7" />
<line x1="377.75" y1="103.50" x2="377.75" y2="90.60" stroke="#9c9c9c" stroke-width="0.75"/>
<path d="M377.75 90.60 A9.75 12.90 0 0 1 387.50 103.50" fill="none" stroke="#a0a0a0" stroke-width="0.7" />
<rect x="376.90" y="105.60" width="1.30" height="22.90" fill="#dedede" stroke="#a6a6a6" stroke-width="0.5"/>
<rect x="377.20" y="124.00" width="14.30" height="2.20" fill="#ececec" stroke="#9a9a9a" stroke-width="0.6"/>
<rect x="345.60" y="128.50" width="31.60" height="2.25" fill="#ececec" stroke="#9a9a9a" stroke-width="0.6"/>
<line x1="377.20" y1="130.75" x2="391.50" y2="130.75" stroke="#b0b0b0" stroke-width="0.6"/>
<line x1="352.00" y1="105.60" x2="352.00" y2="124.00" stroke="#9a9a9a" stroke-width="0.6"/>
<rect x="345.60" y="103.80" width="6.00" height="6.80" fill="#fff" stroke="#9a9a9a" stroke-width="0.8"/>
<rect x="391.50" y="105.60" width="4.10" height="101.40" fill="#fff" stroke="#9a9a9a" stroke-width="0.7"/>
<line x1="393.20" y1="110.60" x2="393.20" y2="200.60" stroke="#9a9a9a" stroke-width="0.5"/>
<line x1="396.25" y1="106.25" x2="413.00" y2="106.25" stroke="#9a9a9a" stroke-width="0.5"/>
<line x1="396.25" y1="108.75" x2="413.00" y2="108.75" stroke="#9a9a9a" stroke-width="0.5"/>
<line x1="396.25" y1="111.25" x2="413.00" y2="111.25" stroke="#9a9a9a" stroke-width="0.5"/>
<rect x="391.50" y="104.00" width="4.75" height="6.60" fill="#fff" stroke="#9a9a9a" stroke-width="0.8"/>
<rect x="413.00" y="104.00" width="5.00" height="6.60" fill="#fff" stroke="#9a9a9a" stroke-width="0.8"/>
<rect x="413.75" y="110.60" width="1.85" height="90.00" fill="#f2f2f2" stroke="#9a9a9a" stroke-width="0.6"/>
<rect x="415.00" y="141.25" width="3.00" height="28.15" fill="#fff" stroke="#9a9a9a" stroke-width="0.6"/>
<rect x="415.20" y="110.60" width="2.80" height="13.15" fill="#fff" stroke="#9a9a9a" stroke-width="0.6"/>
<rect x="396.90" y="115.60" width="16.85" height="33.80" fill="#fff" stroke="#8c8c8c" stroke-width="0.9" rx="1.6"/>
<rect x="398.50" y="117.20" width="13.70" height="30.60" fill="#fff" stroke="#b0b0b0" stroke-width="0.6" rx="1.2"/>
<rect x="391.90" y="151.90" width="26.10" height="5.00" fill="#fff" stroke="#9a9a9a" stroke-width="0.6"/>
<line x1="391.90" y1="154.40" x2="415.00" y2="154.40" stroke="#9a9a9a" stroke-width="0.5"/>
<rect x="396.90" y="160.00" width="16.85" height="35.00" fill="#fff" stroke="#8c8c8c" stroke-width="0.9" rx="1.6"/>
<rect x="398.50" y="161.60" width="13.70" height="31.80" fill="#fff" stroke="#b0b0b0" stroke-width="0.6" rx="1.2"/>
<line x1="395.60" y1="198.50" x2="414.00" y2="198.50" stroke="#9a9a9a" stroke-width="0.5"/>
<line x1="395.60" y1="200.60" x2="414.00" y2="200.60" stroke="#9a9a9a" stroke-width="0.5"/>
<line x1="395.60" y1="202.50" x2="414.00" y2="202.50" stroke="#9a9a9a" stroke-width="0.5"/>
<line x1="395.60" y1="205.00" x2="414.00" y2="205.00" stroke="#9a9a9a" stroke-width="0.5"/>
<rect x="388.10" y="131.25" width="3.15" height="38.75" fill="#dedede" stroke="#a6a6a6" stroke-width="0.5"/>
<rect x="380.60" y="132.50" width="7.50" height="11.25" fill="#fff" stroke="#b0b0b0" stroke-width="0.5"/>
<rect x="380.60" y="145.60" width="7.50" height="12.50" fill="#fff" stroke="#b0b0b0" stroke-width="0.5"/>
<ellipse cx="383.90" cy="137.80" rx="2.60" ry="2.60" fill="none" stroke="#a6a6a6" stroke-width="0.6"/>
<ellipse cx="383.90" cy="151.90" rx="2.60" ry="2.60" fill="none" stroke="#a6a6a6" stroke-width="0.6"/>
<rect x="357.25" y="143.00" width="3.35" height="17.60" fill="#c4c4c4" stroke="#b4b4b4" stroke-width="0.4"/>
<rect x="358.75" y="161.25" width="32.50" height="6.25" fill="#fff" stroke="#9a9a9a" stroke-width="0.6"/>
<rect x="346.00" y="167.50" width="45.25" height="2.50" fill="#ececec" stroke="#9a9a9a" stroke-width="0.6"/>
<path d="M357.00 163.00 A10.80 13.00 0 0 0 346.20 150.00" fill="none" stroke="#a0a0a0" stroke-width="0.7" />
<rect x="346.00" y="163.00" width="11.00" height="4.00" fill="#ececec" stroke="#9a9a9a" stroke-width="0.6"/>
<rect x="357.50" y="170.60" width="33.75" height="9.40" fill="#fff" stroke="#b0b0b0" stroke-width="0.5"/>
<line x1="357.50" y1="170.00" x2="357.50" y2="190.60" stroke="#9a9a9a" stroke-width="0.6"/>
<line x1="368.00" y1="170.60" x2="368.00" y2="180.00" stroke="#b0b0b0" stroke-width="0.5"/>
<rect x="380.60" y="170.00" width="1.90" height="20.60" fill="#dedede" stroke="#a6a6a6" stroke-width="0.5"/>
<line x1="390.50" y1="170.00" x2="390.50" y2="190.60" stroke="#9a9a9a" stroke-width="0.6"/>
<ellipse cx="361.90" cy="175.00" rx="2.60" ry="2.60" fill="none" stroke="#a6a6a6" stroke-width="0.6"/>
<path d="M366.5 172 L371 178 M371 172 L366.5 178" fill="none" stroke="#b0b0b0" stroke-width="0.5" />
<ellipse cx="376.90" cy="175.00" rx="1.60" ry="3.40" fill="none" stroke="#a6a6a6" stroke-width="0.6"/>
<ellipse cx="386.25" cy="175.60" rx="1.90" ry="3.60" fill="none" stroke="#a6a6a6" stroke-width="0.6"/>
<path d="M388.75 178.75 A7 11 0 0 1 382 190" fill="none" stroke="#b0b0b0" stroke-width="0.5" />
<path d="M357.50 170.60 A11.30 13.15 0 0 1 346.20 183.75" fill="none" stroke="#a0a0a0" stroke-width="0.7" />
<rect x="345.60" y="204.40" width="71.90" height="3.10" fill="#ececec" stroke="#9a9a9a" stroke-width="0.6"/>
<rect x="345.60" y="200.60" width="5.90" height="6.40" fill="#fff" stroke="#9a9a9a" stroke-width="0.8"/>
<rect x="392.00" y="200.60" width="4.25" height="6.40" fill="#fff" stroke="#9a9a9a" stroke-width="0.8"/>
<rect x="413.75" y="200.60" width="4.25" height="5.65" fill="#fff" stroke="#9a9a9a" stroke-width="0.8"/>
<ellipse cx="371.00" cy="149.25" rx="9.50" ry="13.25" fill="#fff" stroke="#b4404e" stroke-width="0.9"/>
<ellipse cx="371.00" cy="188.75" rx="9.50" ry="13.10" fill="#fff" stroke="#b4404e" stroke-width="0.9"/>
<g fill="#0a0a0a"><circle cx="371" cy="139.9" r="1.35"/><path d="M368.6 141.7 h4.8 v6.4 l-1 1.2 l1.2 3.7 h-1.5 v7 h-2.2 v-7 h-1.5 l1.2 -3.7 l-1 -1.2 z"/></g>
<g fill="#0a0a0a"><circle cx="371" cy="178.9" r="1.35"/><path d="M368.5 180.7 h5 v8.6 h-1.2 v10.2 h-2.6 v-10.2 h-1.2 z"/></g>
<line x1="417.50" y1="207.25" x2="417.50" y2="212.50" stroke="#9a9a9a" stroke-width="0.7"/>
<line x1="417.50" y1="212.50" x2="406.90" y2="212.50" stroke="#9c9c9c" stroke-width="0.75"/>
<path d="M406.90 212.50 A10.60 14.40 0 0 0 417.50 226.90" fill="none" stroke="#a0a0a0" stroke-width="0.7" />
<line x1="417.50" y1="226.90" x2="417.50" y2="232.50" stroke="#9a9a9a" stroke-width="0.7"/>
<line x1="417.50" y1="79.00" x2="417.50" y2="83.00" stroke="#9a9a9a" stroke-width="0.7"/>
<line x1="417.50" y1="99.40" x2="407.25" y2="99.40" stroke="#9c9c9c" stroke-width="0.75"/>
<path d="M407.25 99.40 A10.25 16.40 0 0 1 417.50 83.00" fill="none" stroke="#a0a0a0" stroke-width="0.7" />
<line x1="417.50" y1="99.40" x2="417.50" y2="104.00" stroke="#9a9a9a" stroke-width="0.7"/>
<path d="M480 103.3 L468.6 103.3 L458.1 106.1 L448.1 113.7 L441.5 125.5 L438.6 140.9" fill="none" stroke="#989898" stroke-width="2.3" stroke-linejoin="round"/>
<path d="M438.6 169.2 L442 184.5 L448.6 196.3 L458.1 203.9 L469 206.8 L480 206.8" fill="none" stroke="#989898" stroke-width="2.3" stroke-linejoin="round"/>
<line x1="438.00" y1="141.00" x2="449.20" y2="141.00" stroke="#a0a0a0" stroke-width="0.7"/>
<line x1="438.00" y1="169.30" x2="449.20" y2="169.30" stroke="#a0a0a0" stroke-width="0.7"/>
<path d="M449.2 141 A10.7 14.2 0 0 1 438.5 155.2" fill="none" stroke="#a0a0a0" stroke-width="0.7" />
<path d="M449.2 169.3 A10.7 14.1 0 0 0 438.5 155.2" fill="none" stroke="#a0a0a0" stroke-width="0.7" />
<rect x="481.00" y="102.25" width="145.25" height="2.15" fill="#e8e8e8" stroke="#9a9a9a" stroke-width="0.6"/>
<rect x="583" y="102.3" width="10" height="2.1" fill="#c0c0c0"/>
<line x1="482.50" y1="79.00" x2="482.50" y2="83.00" stroke="#9a9a9a" stroke-width="0.7"/>
<line x1="482.50" y1="97.25" x2="493.50" y2="97.25" stroke="#9c9c9c" stroke-width="0.75"/>
<path d="M493.50 97.25 A11.00 14.25 0 0 0 482.50 83.00" fill="none" stroke="#a0a0a0" stroke-width="0.7" />
<line x1="482.50" y1="97.25" x2="482.50" y2="103.00" stroke="#9a9a9a" stroke-width="0.7"/>
<rect x="479.40" y="104.40" width="1.85" height="54.35" fill="#dedede" stroke="#a6a6a6" stroke-width="0.5"/>
<rect x="480.00" y="103.50" width="6.00" height="6.75" fill="#fff" stroke="#9a9a9a" stroke-width="0.8"/>
<rect x="479.40" y="156.25" width="40.60" height="2.65" fill="#e4e4e4" stroke="#999" stroke-width="0.6"/>
<rect x="529.75" y="104.40" width="2.15" height="54.60" fill="#dedede" stroke="#a6a6a6" stroke-width="0.5"/>
<path d="M529.75 143.50 A9.75 13.50 0 0 0 520.00 157.00" fill="none" stroke="#a0a0a0" stroke-width="0.7" />
<rect x="532.75" y="104.40" width="4.75" height="32.50" fill="#f0f0f0" stroke="#b8b8b8" stroke-width="0.5"/>
<rect x="531.90" y="136.50" width="7.50" height="2.25" fill="#f4f4f4" stroke="#aaa" stroke-width="0.5"/>
<rect x="532.75" y="138.75" width="4.50" height="13.15" fill="#fff" stroke="#b0b0b0" stroke-width="0.5"/>
<rect x="532.75" y="153.00" width="2.85" height="4.50" fill="#fff" stroke="#a0a0a0" stroke-width="0.5"/>
<rect x="546.90" y="103.50" width="6.10" height="7.75" fill="#fff" stroke="#9a9a9a" stroke-width="0.8"/>
<rect x="614.00" y="102.75" width="6.25" height="7.85" fill="#fff" stroke="#9a9a9a" stroke-width="0.8"/>
<rect x="591.90" y="104.40" width="1.60" height="39.35" fill="#dedede" stroke="#a6a6a6" stroke-width="0.5"/>
<line x1="592.50" y1="157.50" x2="603.00" y2="157.50" stroke="#9c9c9c" stroke-width="0.75"/>
<path d="M603.00 157.50 A10.50 13.75 0 0 0 592.50 143.75" fill="none" stroke="#a0a0a0" stroke-width="0.7" />
<rect x="589.40" y="157.75" width="37.50" height="3.25" fill="#e4e4e4" stroke="#999" stroke-width="0.6"/>
<path d="M580.00 173.50 A9.40 14.10 0 0 0 589.40 159.40" fill="none" stroke="#a0a0a0" stroke-width="0.7" />
<rect x="576.90" y="155.60" width="2.50" height="28.40" fill="#dedede" stroke="#a6a6a6" stroke-width="0.5"/>
<rect x="626.00" y="104.40" width="2.75" height="103.60" fill="#f2f2f2" stroke="#9a9a9a" stroke-width="0.6"/>
<rect x="548.00" y="182.00" width="34.00" height="2.75" fill="#e8e8e8" stroke="#999" stroke-width="0.6"/>
<rect x="552.50" y="184.75" width="1.90" height="21.25" fill="#dedede" stroke="#a6a6a6" stroke-width="0.5"/>
<rect x="580.00" y="184.75" width="2.00" height="23.75" fill="#dedede" stroke="#a6a6a6" stroke-width="0.5"/>
<rect x="485.60" y="206.00" width="47.40" height="2.50" fill="#e8e8e8" stroke="#9a9a9a" stroke-width="0.6"/>
<rect x="479.40" y="199.75" width="6.20" height="7.75" fill="#fff" stroke="#9a9a9a" stroke-width="0.8"/>
<line x1="533.00" y1="207.00" x2="533.00" y2="192.50" stroke="#9c9c9c" stroke-width="0.75"/>
<path d="M533.00 192.50 A9.25 14.50 0 0 1 542.25 207.00" fill="none" stroke="#a0a0a0" stroke-width="0.7" />
<rect x="542.25" y="206.00" width="4.75" height="2.50" fill="#e8e8e8" stroke="#9a9a9a" stroke-width="0.6"/>
<rect x="547.00" y="199.40" width="6.00" height="8.60" fill="#fff" stroke="#9a9a9a" stroke-width="0.8"/>
<rect x="554.40" y="206.00" width="13.60" height="2.50" fill="#e8e8e8" stroke="#9a9a9a" stroke-width="0.6"/>
<line x1="577.00" y1="207.00" x2="577.00" y2="220.60" stroke="#9c9c9c" stroke-width="0.75"/>
<path d="M577.00 220.60 A9.00 13.60 0 0 1 568.00 207.00" fill="none" stroke="#a0a0a0" stroke-width="0.7" />
<rect x="577.00" y="206.00" width="51.75" height="2.50" fill="#e8e8e8" stroke="#9a9a9a" stroke-width="0.6"/>
<line x1="583.00" y1="206.00" x2="583.00" y2="208.50" stroke="#9a9a9a" stroke-width="0.5"/>
<line x1="592.50" y1="206.00" x2="592.50" y2="208.50" stroke="#9a9a9a" stroke-width="0.5"/>
<rect x="614.40" y="199.75" width="5.60" height="8.25" fill="#fff" stroke="#9a9a9a" stroke-width="0.8"/>
<rect x="620.00" y="201.00" width="7.00" height="7.00" fill="#fff" stroke="#9a9a9a" stroke-width="0.6"/>
<rect x="622.00" y="206.90" width="3.60" height="2.50" fill="#fff" stroke="#9a9a9a" stroke-width="0.5"/>
<line x1="482.50" y1="208.50" x2="482.50" y2="212.50" stroke="#9a9a9a" stroke-width="0.7"/>
<line x1="482.50" y1="212.50" x2="493.50" y2="212.50" stroke="#9c9c9c" stroke-width="0.75"/>
<path d="M493.50 212.50 A11.00 14.50 0 0 1 482.50 227.00" fill="none" stroke="#a0a0a0" stroke-width="0.7" />
<line x1="482.50" y1="227.00" x2="482.50" y2="232.50" stroke="#9a9a9a" stroke-width="0.7"/>
<rect x="480.00" y="232.25" width="5.60" height="77.25" fill="#fff" stroke="#a8a8a8" stroke-width="0.6"/>
<line x1="482.00" y1="232.25" x2="482.00" y2="294.00" stroke="#bcbcbc" stroke-width="0.5"/>
<line x1="483.80" y1="232.25" x2="483.80" y2="294.00" stroke="#bcbcbc" stroke-width="0.5"/>
<rect x="480.60" y="242.00" width="5.00" height="5.00" fill="#fff" stroke="#9a9a9a" stroke-width="0.8"/>
<rect x="480.60" y="294.00" width="5.00" height="6.00" fill="#fff" stroke="#9a9a9a" stroke-width="0.8"/>
<rect x="480.00" y="300.00" width="10.00" height="9.50" fill="#fff" stroke="#9a9a9a" stroke-width="0.6"/>
<rect x="485.60" y="232.25" width="20.90" height="2.75" fill="#e6e6e6" stroke="#9a9a9a" stroke-width="0.6"/>
<rect x="515.60" y="232.25" width="10.65" height="2.75" fill="#e6e6e6" stroke="#9a9a9a" stroke-width="0.6"/>
<rect x="535.60" y="232.25" width="35.00" height="2.75" fill="#e6e6e6" stroke="#9a9a9a" stroke-width="0.6"/>
<rect x="580.00" y="232.25" width="28.00" height="2.75" fill="#e6e6e6" stroke="#9a9a9a" stroke-width="0.6"/>
<rect x="617.50" y="232.25" width="28.75" height="2.75" fill="#e6e6e6" stroke="#9a9a9a" stroke-width="0.6"/>
<line x1="516.00" y1="234.00" x2="516.00" y2="247.50" stroke="#9c9c9c" stroke-width="0.75"/>
<path d="M516.00 247.50 A9.50 13.50 0 0 1 506.50 234.00" fill="none" stroke="#a0a0a0" stroke-width="0.7" />
<line x1="526.25" y1="234.00" x2="526.25" y2="247.50" stroke="#9c9c9c" stroke-width="0.75"/>
<path d="M526.25 247.50 A9.35 13.50 0 0 0 535.60 234.00" fill="none" stroke="#a0a0a0" stroke-width="0.7" />
<line x1="570.50" y1="234.00" x2="570.50" y2="248.00" stroke="#9c9c9c" stroke-width="0.75"/>
<path d="M570.50 248.00 A9.50 14.00 0 0 0 580.00 234.00" fill="none" stroke="#a0a0a0" stroke-width="0.7" />
<line x1="608.50" y1="235.00" x2="608.50" y2="247.50" stroke="#9c9c9c" stroke-width="0.75"/>
<path d="M608.50 247.50 A9.00 12.50 0 0 0 617.50 235.00" fill="none" stroke="#a0a0a0" stroke-width="0.7" />
<rect x="523.00" y="235.00" width="3.25" height="17.50" fill="#dedede" stroke="#a6a6a6" stroke-width="0.5"/>
<rect x="520.25" y="252.50" width="7.75" height="43.25" fill="#fff" stroke="#acacac" stroke-width="0.6"/>
<line x1="523.00" y1="252.50" x2="523.00" y2="295.75" stroke="#b8b8b8" stroke-width="0.5"/>
<line x1="526.25" y1="252.50" x2="526.25" y2="295.75" stroke="#b8b8b8" stroke-width="0.5"/>
<rect x="562.25" y="235.00" width="5.25" height="60.75" fill="#fff" stroke="#9a9a9a" stroke-width="0.6"/>
<rect x="562.25" y="235.00" width="2.15" height="60.75" fill="#d8d8d8" stroke="#a6a6a6" stroke-width="0.5"/>
<rect x="564.40" y="285.75" width="83.60" height="2.65" fill="#fff" stroke="#9a9a9a" stroke-width="0.6"/>
<rect x="601.90" y="235.00" width="6.60" height="50.75" fill="#fff" stroke="#b0b0b0" stroke-width="0.55"/>
<line x1="605.00" y1="235.00" x2="605.00" y2="285.75" stroke="#b8b8b8" stroke-width="0.5"/>
<line x1="601.90" y1="248.00" x2="605.00" y2="248.00" stroke="#9a9a9a" stroke-width="0.4"/>
<line x1="601.90" y1="262.00" x2="605.00" y2="262.00" stroke="#9a9a9a" stroke-width="0.4"/>
<line x1="601.90" y1="276.00" x2="605.00" y2="276.00" stroke="#9a9a9a" stroke-width="0.4"/>
<rect x="643.20" y="235.00" width="4.30" height="53.40" fill="#fff" stroke="#b0b0b0" stroke-width="0.55"/>
<line x1="645.20" y1="235.00" x2="645.20" y2="288.40" stroke="#b8b8b8" stroke-width="0.5"/>
<line x1="645.00" y1="248.00" x2="647.50" y2="248.00" stroke="#9a9a9a" stroke-width="0.4"/>
<line x1="645.00" y1="262.00" x2="647.50" y2="262.00" stroke="#9a9a9a" stroke-width="0.4"/>
<line x1="645.00" y1="276.00" x2="647.50" y2="276.00" stroke="#9a9a9a" stroke-width="0.4"/>
<rect x="622.50" y="232.50" width="20.00" height="6.90" fill="#fff" stroke="#9a9a9a" stroke-width="0.6"/>
<rect x="485.60" y="296.00" width="207.40" height="5.60" fill="#e4e4e4" stroke="#ababab" stroke-width="0.5"/>
<rect x="485.60" y="297.00" width="207.40" height="3.20" fill="#fff"/>
<rect x="504.40" y="296.90" width="7.90" height="3.40" fill="#b9b9b9"/>
<rect x="521.02" y="296.90" width="7.90" height="3.40" fill="#b9b9b9"/>
<rect x="537.64" y="296.90" width="7.90" height="3.40" fill="#b9b9b9"/>
<rect x="554.26" y="296.90" width="7.90" height="3.40" fill="#b9b9b9"/>
<rect x="570.88" y="296.90" width="7.90" height="3.40" fill="#b9b9b9"/>
<rect x="587.50" y="296.90" width="7.90" height="3.40" fill="#b9b9b9"/>
<rect x="604.12" y="296.90" width="7.90" height="3.40" fill="#b9b9b9"/>
<rect x="620.74" y="296.90" width="7.90" height="3.40" fill="#b9b9b9"/>
<rect x="637.36" y="296.90" width="7.90" height="3.40" fill="#b9b9b9"/>
<rect x="653.98" y="296.90" width="7.90" height="3.40" fill="#b9b9b9"/>
<rect x="670.60" y="296.90" width="7.90" height="3.40" fill="#b9b9b9"/>
<rect x="687.22" y="296.90" width="5.78" height="3.40" fill="#b9b9b9"/>
<line x1="485.60" y1="296.20" x2="693.00" y2="296.20" stroke="#999" stroke-width="0.9"/>
<rect x="547.50" y="293.00" width="5.25" height="7.00" fill="#fff" stroke="#9a9a9a" stroke-width="0.8"/>
<rect x="615.00" y="292.60" width="5.00" height="6.90" fill="#fff" stroke="#9a9a9a" stroke-width="0.8"/>
<path d="M492.8 301.6 V315 M565.2 301.6 V315" fill="none" stroke="#a4a4a4" stroke-width="0.7" />
<rect x="492.50" y="312.80" width="73.00" height="2.80" fill="#c8c8c8" stroke="#8e8e8e" stroke-width="0.7"/>
<rect x="490.60" y="302.60" width="2.00" height="4.80" fill="#fff" stroke="#9a9a9a" stroke-width="0.5"/>
<line x1="431.25" y1="247.25" x2="480.00" y2="247.25" stroke="#8a8a8a" stroke-width="1.1"/>
<rect x="433.00" y="248.00" width="47.00" height="8.25" fill="#fff" stroke="#8c8c8c" stroke-width="0.8"/>
<line x1="439.40" y1="256.25" x2="439.40" y2="272.50" stroke="#a6a6a6" stroke-width="0.7"/>
<line x1="441.96" y1="256.25" x2="441.96" y2="272.50" stroke="#a6a6a6" stroke-width="0.7"/>
<line x1="444.52" y1="256.25" x2="444.52" y2="272.50" stroke="#a6a6a6" stroke-width="0.7"/>
<line x1="447.08" y1="256.25" x2="447.08" y2="272.50" stroke="#a6a6a6" stroke-width="0.7"/>
<line x1="449.64" y1="256.25" x2="449.64" y2="272.50" stroke="#a6a6a6" stroke-width="0.7"/>
<line x1="452.20" y1="256.25" x2="452.20" y2="272.50" stroke="#a6a6a6" stroke-width="0.7"/>
<line x1="454.76" y1="256.25" x2="454.76" y2="272.50" stroke="#a6a6a6" stroke-width="0.7"/>
<line x1="457.32" y1="256.25" x2="457.32" y2="272.50" stroke="#a6a6a6" stroke-width="0.7"/>
<line x1="459.88" y1="256.25" x2="459.88" y2="272.50" stroke="#a6a6a6" stroke-width="0.7"/>
<line x1="462.44" y1="256.25" x2="462.44" y2="272.50" stroke="#a6a6a6" stroke-width="0.7"/>
<line x1="465.00" y1="256.25" x2="465.00" y2="272.50" stroke="#a6a6a6" stroke-width="0.7"/>
<line x1="449.40" y1="276.50" x2="449.40" y2="292.00" stroke="#a6a6a6" stroke-width="0.7"/>
<line x1="451.73" y1="276.50" x2="451.73" y2="292.00" stroke="#a6a6a6" stroke-width="0.7"/>
<line x1="454.06" y1="276.50" x2="454.06" y2="292.00" stroke="#a6a6a6" stroke-width="0.7"/>
<line x1="456.39" y1="276.50" x2="456.39" y2="292.00" stroke="#a6a6a6" stroke-width="0.7"/>
<line x1="458.72" y1="276.50" x2="458.72" y2="292.00" stroke="#a6a6a6" stroke-width="0.7"/>
<line x1="461.05" y1="276.50" x2="461.05" y2="292.00" stroke="#a6a6a6" stroke-width="0.7"/>
<line x1="463.38" y1="276.50" x2="463.38" y2="292.00" stroke="#a6a6a6" stroke-width="0.7"/>
<line x1="465.71" y1="276.50" x2="465.71" y2="292.00" stroke="#a6a6a6" stroke-width="0.7"/>
<line x1="468.04" y1="276.50" x2="468.04" y2="292.00" stroke="#a6a6a6" stroke-width="0.7"/>
<path d="M436.25 265 H473.5 V283.9 H446.25" fill="none" stroke="#8c8c8c" stroke-width="1.1" />
<rect x="436.90" y="272.25" width="33.10" height="4.25" fill="#fff" stroke="#8a8a8a" stroke-width="0.9" rx="2.1"/>
<path d="M448.75 255.6 L456.25 272.5 M451 255.6 L458.5 272.5" fill="none" stroke="#8c8c8c" stroke-width="0.7" />
<rect x="433.00" y="292.00" width="47.00" height="9.20" fill="#fff" stroke="#8c8c8c" stroke-width="0.8"/>
<line x1="431.25" y1="301.40" x2="480.00" y2="301.40" stroke="#8a8a8a" stroke-width="1.1"/>
<rect x="438.00" y="301.75" width="5.50" height="7.25" fill="#fff" stroke="#9a9a9a" stroke-width="0.7"/>
<rect x="439.30" y="303.00" width="2.90" height="3.50" fill="#fff" stroke="#9a9a9a" stroke-width="0.5"/>
<rect x="644.00" y="79.00" width="7.90" height="5.00" fill="#fff" stroke="#9a9a9a" stroke-width="0.6"/>
<line x1="644.40" y1="84.00" x2="655.00" y2="84.00" stroke="#9c9c9c" stroke-width="0.75"/>
<path d="M655.00 84.00 A10.60 13.00 0 0 1 644.40 97.00" fill="none" stroke="#a0a0a0" stroke-width="0.7" />
<rect x="644.00" y="97.00" width="2.00" height="6.00" fill="#fff" stroke="#9a9a9a" stroke-width="0.6"/>
<rect x="644.40" y="102.75" width="50.60" height="7.25" fill="#fff" stroke="#9a9a9a" stroke-width="0.7"/>
<line x1="649.40" y1="104.60" x2="683.00" y2="104.60" stroke="#9a9a9a" stroke-width="0.5"/>
<line x1="649.40" y1="107.80" x2="683.00" y2="107.80" stroke="#9a9a9a" stroke-width="0.5"/>
<line x1="688.50" y1="104.60" x2="695.00" y2="104.60" stroke="#9a9a9a" stroke-width="0.5"/>
<line x1="688.50" y1="107.80" x2="695.00" y2="107.80" stroke="#9a9a9a" stroke-width="0.5"/>
<rect x="644.50" y="104.00" width="4.70" height="5.60" fill="#fff" stroke="#9a9a9a" stroke-width="0.8"/>
<rect x="683.40" y="103.50" width="5.10" height="6.50" fill="#fff" stroke="#9a9a9a" stroke-width="0.8"/>
<rect x="644.25" y="110.00" width="26.25" height="70.40" fill="#fff" stroke="#9a9a9a" stroke-width="0.7"/>
<rect x="646.00" y="110.60" width="22.20" height="66.80" fill="#fff" stroke="#9a9a9a" stroke-width="0.6"/>
<path d="M646 110.6 L668.2 177.4 M668.2 110.6 L646 177.4" fill="none" stroke="#bdaaac" stroke-width="0.6" />
<rect x="656.6" y="140.8" width="1.1" height="5.8" fill="#c4405a"/>
<line x1="671.80" y1="133.30" x2="681.40" y2="133.30" stroke="#a2a2a2" stroke-width="0.75"/>
<line x1="671.80" y1="136.80" x2="681.40" y2="136.80" stroke="#a2a2a2" stroke-width="0.75"/>
<line x1="671.80" y1="140.30" x2="681.40" y2="140.30" stroke="#a2a2a2" stroke-width="0.75"/>
<line x1="671.80" y1="143.80" x2="681.40" y2="143.80" stroke="#a2a2a2" stroke-width="0.75"/>
<line x1="671.80" y1="147.30" x2="681.40" y2="147.30" stroke="#a2a2a2" stroke-width="0.75"/>
<line x1="671.80" y1="150.80" x2="681.40" y2="150.80" stroke="#a2a2a2" stroke-width="0.75"/>
<line x1="671.80" y1="154.30" x2="681.40" y2="154.30" stroke="#a2a2a2" stroke-width="0.75"/>
<line x1="671.80" y1="157.80" x2="681.40" y2="157.80" stroke="#a2a2a2" stroke-width="0.75"/>
<line x1="671.80" y1="161.30" x2="681.40" y2="161.30" stroke="#a2a2a2" stroke-width="0.75"/>
<line x1="671.80" y1="164.80" x2="681.40" y2="164.80" stroke="#a2a2a2" stroke-width="0.75"/>
<line x1="671.80" y1="168.30" x2="681.40" y2="168.30" stroke="#a2a2a2" stroke-width="0.75"/>
<line x1="671.80" y1="171.80" x2="681.40" y2="171.80" stroke="#a2a2a2" stroke-width="0.75"/>
<line x1="671.80" y1="175.30" x2="681.40" y2="175.30" stroke="#a2a2a2" stroke-width="0.75"/>
<line x1="684.00" y1="133.30" x2="693.50" y2="133.30" stroke="#a2a2a2" stroke-width="0.75"/>
<line x1="684.00" y1="136.80" x2="693.50" y2="136.80" stroke="#a2a2a2" stroke-width="0.75"/>
<line x1="684.00" y1="140.30" x2="693.50" y2="140.30" stroke="#a2a2a2" stroke-width="0.75"/>
<line x1="684.00" y1="143.80" x2="693.50" y2="143.80" stroke="#a2a2a2" stroke-width="0.75"/>
<line x1="684.00" y1="147.30" x2="693.50" y2="147.30" stroke="#a2a2a2" stroke-width="0.75"/>
<line x1="684.00" y1="150.80" x2="693.50" y2="150.80" stroke="#a2a2a2" stroke-width="0.75"/>
<line x1="684.00" y1="154.30" x2="693.50" y2="154.30" stroke="#a2a2a2" stroke-width="0.75"/>
<line x1="684.00" y1="157.80" x2="693.50" y2="157.80" stroke="#a2a2a2" stroke-width="0.75"/>
<line x1="684.00" y1="161.30" x2="693.50" y2="161.30" stroke="#a2a2a2" stroke-width="0.75"/>
<line x1="684.00" y1="164.80" x2="693.50" y2="164.80" stroke="#a2a2a2" stroke-width="0.75"/>
<rect x="676.20" y="124.25" width="12.80" height="9.05" fill="none" stroke="#a6a6a6" stroke-width="0.6"/>
<line x1="676.20" y1="133.30" x2="676.20" y2="182.00" stroke="#b0b0b0" stroke-width="0.5"/>
<line x1="689.00" y1="133.30" x2="689.00" y2="169.80" stroke="#b0b0b0" stroke-width="0.5"/>
<rect x="670.50" y="131.00" width="1.40" height="46.40" fill="#999" stroke="none" stroke-width="0"/>
<rect x="693.30" y="131.00" width="1.20" height="38.80" fill="#999" stroke="none" stroke-width="0"/>
<rect x="681.40" y="130.80" width="2.60" height="48.60" fill="#e8e8e8" stroke="#888" stroke-width="0.7" rx="1.3"/>
<path d="M670.6 149.6 L676 153.4 L677 151.4 L682.6 157.4" fill="none" stroke="#8e8e8e" stroke-width="0.95" />
<rect x="644.00" y="180.40" width="2.00" height="3.60" fill="#fff" stroke="#9a9a9a" stroke-width="0.6"/>
<line x1="644.50" y1="197.20" x2="656.00" y2="197.20" stroke="#9c9c9c" stroke-width="0.75"/>
<path d="M656.00 197.20 A11.50 13.60 0 0 0 644.50 183.60" fill="none" stroke="#a0a0a0" stroke-width="0.7" />
<rect x="644.00" y="198.00" width="12.00" height="14.80" fill="#fff" stroke="#9a9a9a" stroke-width="0.6"/>
<rect x="645.00" y="201.70" width="4.00" height="5.60" fill="#fff" stroke="#9a9a9a" stroke-width="0.5"/>
<rect x="649.00" y="203.70" width="4.60" height="5.10" fill="#fff" stroke="#9a9a9a" stroke-width="0.5"/>
<rect x="649.60" y="200.20" width="42.90" height="3.50" fill="#f0f0f0" stroke="#9a9a9a" stroke-width="0.6"/>
<rect x="692.00" y="200.00" width="3.50" height="7.80" fill="#fff" stroke="#9a9a9a" stroke-width="0.6"/>
<line x1="644.50" y1="212.80" x2="656.00" y2="212.80" stroke="#9c9c9c" stroke-width="0.75"/>
<path d="M656.00 212.80 A11.50 13.60 0 0 1 644.50 226.40" fill="none" stroke="#a0a0a0" stroke-width="0.7" />
<rect x="643.75" y="226.50" width="1.85" height="8.50" fill="#fff" stroke="#9a9a9a" stroke-width="0.6"/>
<path d="M645.6 227.5 H655 V234" fill="none" stroke="#9a9a9a" stroke-width="0.6" />
<path d="M645.6 230 H653 V235" fill="none" stroke="#9a9a9a" stroke-width="0.6" />
<line x1="655.00" y1="235.00" x2="664.40" y2="235.00" stroke="#9c9c9c" stroke-width="0.75"/>
<path d="M664.40 235.00 A9.40 12.60 0 0 1 655.00 247.60" fill="none" stroke="#a0a0a0" stroke-width="0.7" />
<rect x="653.00" y="247.60" width="2.60" height="48.40" fill="#fff" stroke="#9a9a9a" stroke-width="0.6"/>
<rect x="647.50" y="252.00" width="7.50" height="3.60" fill="#fff" stroke="#9a9a9a" stroke-width="0.6"/>
<line x1="647.50" y1="283.00" x2="655.00" y2="283.00" stroke="#9a9a9a" stroke-width="0.6"/>
<line x1="655.00" y1="295.75" x2="693.00" y2="295.75" stroke="#909090" stroke-width="0.9"/>
<rect x="691.00" y="292.60" width="4.60" height="7.40" fill="#fff" stroke="#9a9a9a" stroke-width="0.6"/>
<ellipse cx="692.6" cy="301.6" rx="3" ry="1.7" fill="#b4b4b4"/>
<ellipse cx="692.9" cy="301.3" rx="1.2" ry="0.8" fill="#e8e8e8"/>
</svg>
<svg class="dev" style="left:301.25px;top:37.5px" viewBox="0 0 19 19"><use href="#dv"/></svg>
<div class="lbl" style="left:310.75px;top:56.70px">Cell B-9</div>
<svg class="dev" style="left:399px;top:37.5px" viewBox="0 0 19 19"><use href="#dv"/></svg>
<div class="lbl" style="left:408.50px;top:56.70px">Cell B-7</div>
<svg class="dev" style="left:449.6px;top:37.5px" viewBox="0 0 19 19"><use href="#dv"/></svg>
<div class="lbl" style="left:459.10px;top:56.70px">Cell B-6</div>
<svg class="dev" style="left:491px;top:37.5px" viewBox="0 0 19 19"><use href="#dv"/></svg>
<div class="lbl" style="left:500.50px;top:56.70px">Cell B-5</div>
<svg class="dev" style="left:534.75px;top:37.5px" viewBox="0 0 19 19"><use href="#dv"/></svg>
<div class="lbl" style="left:544.25px;top:56.70px">Cell B-4</div>
<svg class="dev" style="left:574px;top:37.5px" viewBox="0 0 19 19"><use href="#dv"/></svg>
<div class="lbl" style="left:583.50px;top:56.70px">Cell B-3</div>
<svg class="dev" style="left:619px;top:37.5px" viewBox="0 0 19 19"><use href="#dv"/></svg>
<div class="lbl" style="left:628.50px;top:56.70px">Cell B-2</div>
<svg class="dev" style="left:662.5px;top:37.5px" viewBox="0 0 19 19"><use href="#dv"/></svg>
<div class="lbl" style="left:672.00px;top:56.70px">Cell B-1</div>
<svg class="dev" style="left:298.1px;top:114.4px" viewBox="0 0 19 19"><use href="#dv"/></svg>
<div class="lbl" style="left:307.60px;top:133.60px">Visitor-I</div>
<svg class="dev" style="left:297.9px;top:154.6px" viewBox="0 0 19 19"><use href="#dv"/></svg>
<div class="lbl" style="left:307.40px;top:173.80px">Visitor-V</div>
<svg class="dev" style="left:493.2px;top:115.6px" viewBox="0 0 19 19"><use href="#dv"/></svg>
<div class="lbl" style="left:502.70px;top:135.40px">Office</div>
<svg class="dev" style="left:329.9px;top:247.1px" viewBox="0 0 19 19"><use href="#dv"/></svg>
<div class="lbl" style="left:339.40px;top:266.30px">Inspector</div>
<svg class="dev" style="left:381px;top:247.1px" viewBox="0 0 19 19"><use href="#dv"/></svg>
<div class="lbl" style="left:390.50px;top:266.30px">Guard A</div>
<svg class="dev" style="left:618.75px;top:247.8px" viewBox="0 0 19 19"><use href="#dv"/></svg>
<div class="lbl" style="left:628.25px;top:267.00px">Storage</div>
<svg class="dev" style="left:665.9px;top:247.8px" viewBox="0 0 19 19"><use href="#dv"/></svg>
<div class="lbl" style="left:675.40px;top:267.00px">Kitchen</div>
<div class="lbl" style="left:356.6px;top:56.7px">Cell B-8</div>
<svg class="abs" style="left:621.7px;top:76.6px" width="22" height="22" viewBox="-11 -11 22 22"><use href="#cam"/></svg>
<div class="lbl" style="left:632.40px;top:96.70px">East</div>
<svg class="abs" style="left:621.8px;top:209.8px" width="22" height="22" viewBox="-11 -11 22 22"><use href="#cam"/></svg>
<div class="lbl" style="left:632.50px;top:230.90px">West</div>

<!-- badges -->
<div class="badge" style="left:79.8px;top:28.1px;"><span>1</span></div>
<div class="badge" style="left:19.2px;top:114.4px;"><span>2</span></div>
<div class="badge" style="left:73.9px;top:391.0px;"><span>3</span></div>
<div class="badge" style="left:248.4px;top:53.8px;"><span>4</span></div>
<div class="badge" style="left:253.4px;top:396.2px;"><span>5</span></div>
</div>
</body>
</html>
